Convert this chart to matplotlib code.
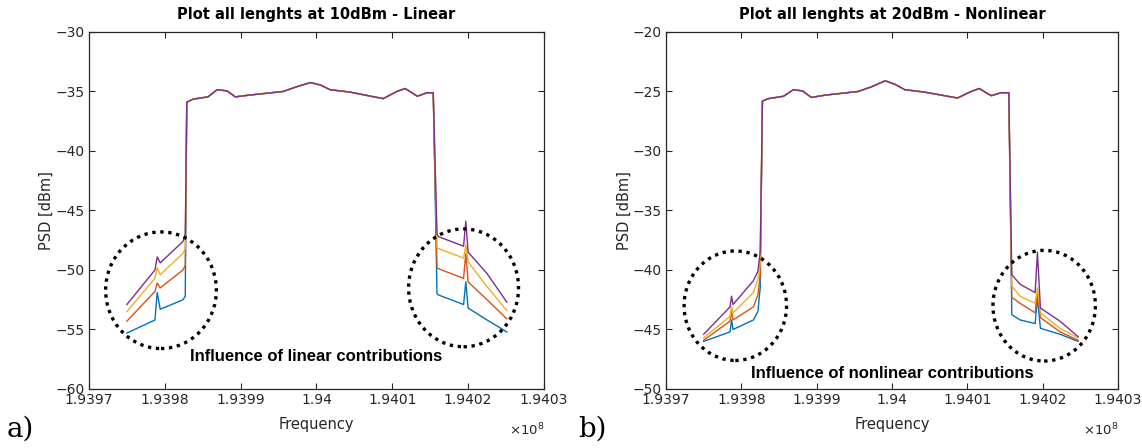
import matplotlib.pyplot as plt
from matplotlib.patches import Ellipse

plt.rcParams['mathtext.fontset'] = 'cm'

colors = ['#0072BD', '#D95319', '#EDB120', '#7E2F8E']
xticks = [1.9397, 1.9398, 1.9399, 1.9400, 1.9401, 1.9402, 1.9403]
xticklabels = ['1.9397', '1.9398', '1.9399', '1.94', '1.9401', '1.9402', '1.9403']

# frequencies are in units of 1e8 Hz
# ---- a) 10 dBm, linear ----
band_f_a = [1.939829, 1.939837, 1.939857, 1.939869, 1.939882, 1.939893, 1.939912,
            1.939956, 1.939974, 1.939992, 1.940005, 1.940018, 1.940044, 1.940088,
            1.940106, 1.940117, 1.940127, 1.940133, 1.940146, 1.940154]
band_a = [-35.9, -35.65, -35.45, -34.85, -34.95, -35.45, -35.3, -35.0, -34.6, -34.25,
          -34.45, -34.85, -35.05, -35.6, -35.0, -34.75, -35.15, -35.4, -35.1, -35.1]
lt_f_a = [1.939750, 1.939787, 1.939790, 1.939794, 1.939824, 1.939827]
lt_a = [[-55.3, -54.2, -51.9, -53.3, -52.5, -52.2],
        [-54.3, -51.8, -51.1, -51.5, -50.0, -49.6],
        [-53.5, -50.7, -49.8, -50.4, -48.6, -48.2],
        [-52.9, -50.0, -48.9, -49.4, -47.6, -47.0]]
rt_f_a = [1.940159, 1.940161, 1.940194, 1.940197, 1.940200, 1.940225, 1.940251]
rt_a = [[-52.0, -52.1, -52.9, -51.0, -53.2, -54.2, -55.2],
        [-49.8, -49.9, -50.7, -48.6, -51.0, -52.5, -54.1],
        [-48.1, -48.2, -49.0, -47.9, -49.3, -51.4, -53.4],
        [-47.0, -47.2, -48.0, -45.9, -48.5, -50.3, -52.7]]

# ---- b) 20 dBm, nonlinear ----
band_f_b = [1.939828, 1.939836, 1.939856, 1.939869, 1.939881, 1.939893, 1.939912,
            1.939955, 1.939973, 1.939991, 1.940004, 1.940017, 1.940043, 1.940087,
            1.940105, 1.940116, 1.940126, 1.940132, 1.940145, 1.940155]
band_b = [-25.8, -25.6, -25.4, -24.85, -24.95, -25.5, -25.3, -25.0, -24.6, -24.1,
          -24.4, -24.85, -25.05, -25.55, -25.0, -24.75, -25.15, -25.35, -25.1, -25.1]
lt_f_b = [1.939750, 1.939785, 1.939787, 1.939789, 1.939816, 1.939822, 1.939825]
lt_b = [[-46.0, -45.2, -44.2, -45.0, -44.2, -43.5, -41.5],
        [-45.9, -44.3, -43.5, -44.2, -43.1, -42.1, -40.5],
        [-45.7, -43.9, -43.1, -43.6, -41.9, -40.8, -39.5],
        [-45.4, -43.1, -42.2, -42.9, -40.9, -40.1, -38.5]]
rt_f_b = [1.940159, 1.940170, 1.940190, 1.940193, 1.940197, 1.940223, 1.940247]
rt_b = [[-43.75, -44.2, -44.5, -42.3, -44.9, -45.4, -46.0],
        [-42.3, -42.8, -43.6, -41.9, -44.0, -45.2, -45.9],
        [-41.35, -42.2, -42.8, -41.5, -43.6, -44.9, -45.7],
        [-40.4, -41.2, -41.9, -38.5, -43.2, -44.3, -45.6]]

panels = [
    dict(band_f=band_f_a, band=band_a, lt_f=lt_f_a, lt=lt_a, rt_f=rt_f_a, rt=rt_a,
         ylim=(-60, -30), title='Plot all lenghts at 10dBm - Linear',
         note='Influence of linear contributions', note_y=-57.3,
         circles=[(1.939795, -51.7, 0.000146, 9.8), (1.940194, -51.5, 0.000145, 9.9)],
         rect=[0.0779, 0.1317, 0.3984, 0.7969], tag='a)', tag_x=0.006),
    dict(band_f=band_f_b, band=band_b, lt_f=lt_f_b, lt=lt_b, rt_f=rt_f_b, rt=rt_b,
         ylim=(-50, -20), title='Plot all lenghts at 20dBm - Nonlinear',
         note='Influence of nonlinear contributions', note_y=-48.7,
         circles=[(1.939792, -43.0, 0.000136, 9.2), (1.940202, -43.0, 0.000136, 9.3)],
         rect=[0.5832, 0.1317, 0.3958, 0.7969], tag='b)', tag_x=0.506),
]

fig = plt.figure(figsize=(11.42, 4.48), dpi=100)
gray = '#262626'

for p in panels:
    ax = fig.add_axes(p['rect'])
    for i in range(4):
        f = p['lt_f'] + p['band_f'] + p['rt_f']
        v = p['lt'][i] + p['band'] + p['rt'][i]
        ax.plot(f, v, color=colors[i], lw=1.0)
    for cx, cy, w, h in p['circles']:
        ax.add_patch(Ellipse((cx, cy), w, h, fill=False, ec='black', lw=2.4,
                             ls=(0, (1, 1.4)), zorder=5))
    ax.text(1.94, p['note_y'], p['note'], ha='center', va='center',
            fontsize=12, fontweight='bold', family='Liberation Sans', zorder=6)
    ax.set_xlim(1.9397, 1.9403)
    ax.set_ylim(*p['ylim'])
    ax.set_xticks(xticks)
    ax.set_xticklabels(xticklabels)
    ax.set_yticks(range(p['ylim'][0], p['ylim'][1] + 1, 5))
    ax.tick_params(direction='in', top=True, right=True, length=4, width=0.8,
                   labelsize=10, colors=gray, pad=3)
    for s in ax.spines.values():
        s.set_color(gray)
        s.set_linewidth(0.9)
    ax.set_title(p['title'], fontsize=10.5, fontweight='bold', pad=9)
    ax.set_xlabel('Frequency', fontsize=10.5, color=gray, labelpad=7)
    ax.set_ylabel('PSD [dBm]', fontsize=10.5, color=gray, labelpad=1)
    ax.text(1.0, -0.115, r'$\times10^{8}$', transform=ax.transAxes, ha='right',
            va='center', fontsize=9.5, color=gray, math_fontfamily='dejavusans')
    fig.text(p['tag_x'], 0.025, p['tag'], fontsize=20, family='serif',
             math_fontfamily='cm')

fig.savefig('out.png', dpi=100)
